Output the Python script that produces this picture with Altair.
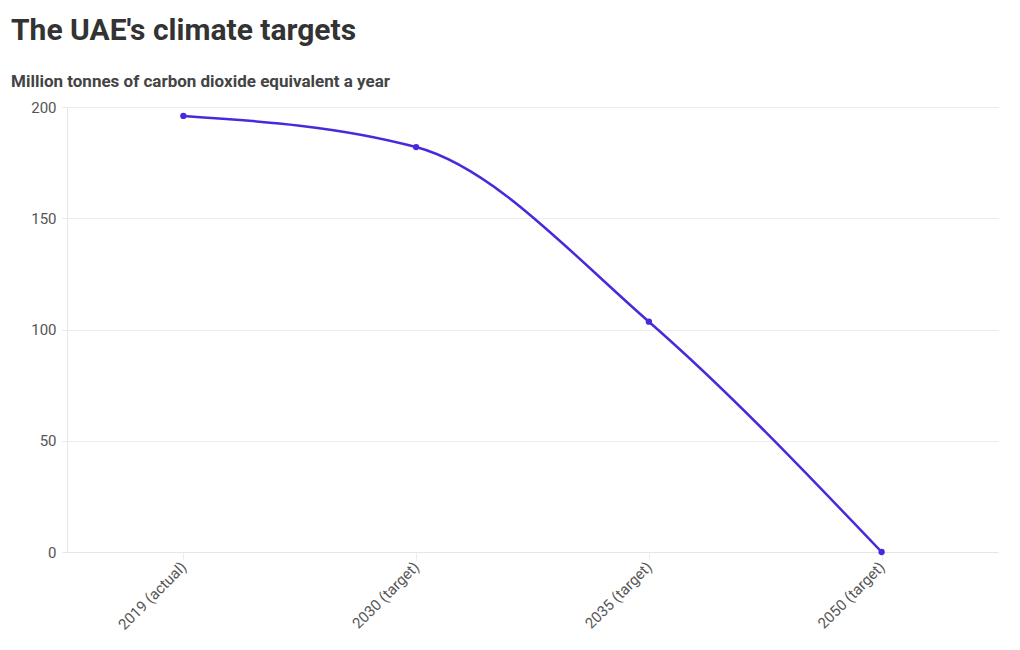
import altair as alt
import pandas as pd

years = ["2019 (actual)", "2030 (target)", "2035 (target)", "2050 (target)"]
emissions = [196, 182, 103.5, 0]

df = pd.DataFrame({"year": years, "value": emissions})

FONT = "Roboto"
COLOR = "#4b28db"

base = alt.Chart(df).encode(
    x=alt.X("year:N", sort=years, title=None,
            scale=alt.Scale(type="point", padding=0.5),
            axis=alt.Axis(labelAngle=-45, labelAlign="right", labelBaseline="middle",
                          labelFontSize=15, labelColor="#555", labelFont=FONT,
                          grid=False, domainColor="#e6e6e6",
                          tickColor="#ececec", tickSize=8, labelPadding=4)),
    y=alt.Y("value:Q", title=None,
            scale=alt.Scale(domain=[0, 200]),
            axis=alt.Axis(values=[0, 50, 100, 150, 200], labelFontSize=15,
                          labelColor="#555", labelFont=FONT, gridColor="#ececec",
                          domainColor="#e6e6e6", tickColor="#e6e6e6", tickSize=5,
                          labelPadding=6, minExtent=56, maxExtent=56)),
)

line = base.mark_line(color=COLOR, strokeWidth=2.5, interpolate="monotone")
pts = base.mark_circle(color=COLOR, size=40, opacity=1)

chart = (line + pts).properties(
    width=931,
    height=445,
    padding={"left": 11, "top": 16, "right": 22, "bottom": 5},
    title=alt.TitleParams(
        text="The UAE's climate targets",
        subtitle="Million tonnes of carbon dioxide equivalent a year",
        anchor="start", frame="group", dx=-56,
        font=FONT, fontSize=30, fontWeight="bold", color="#333",
        subtitleFont=FONT, subtitleFontSize=17, subtitleFontWeight="bold",
        subtitleColor="#444", subtitlePadding=28, offset=10,
    ),
).configure_view(stroke=None)

chart.save("out.html", embed_options={"renderer": "svg", "actions": False})
